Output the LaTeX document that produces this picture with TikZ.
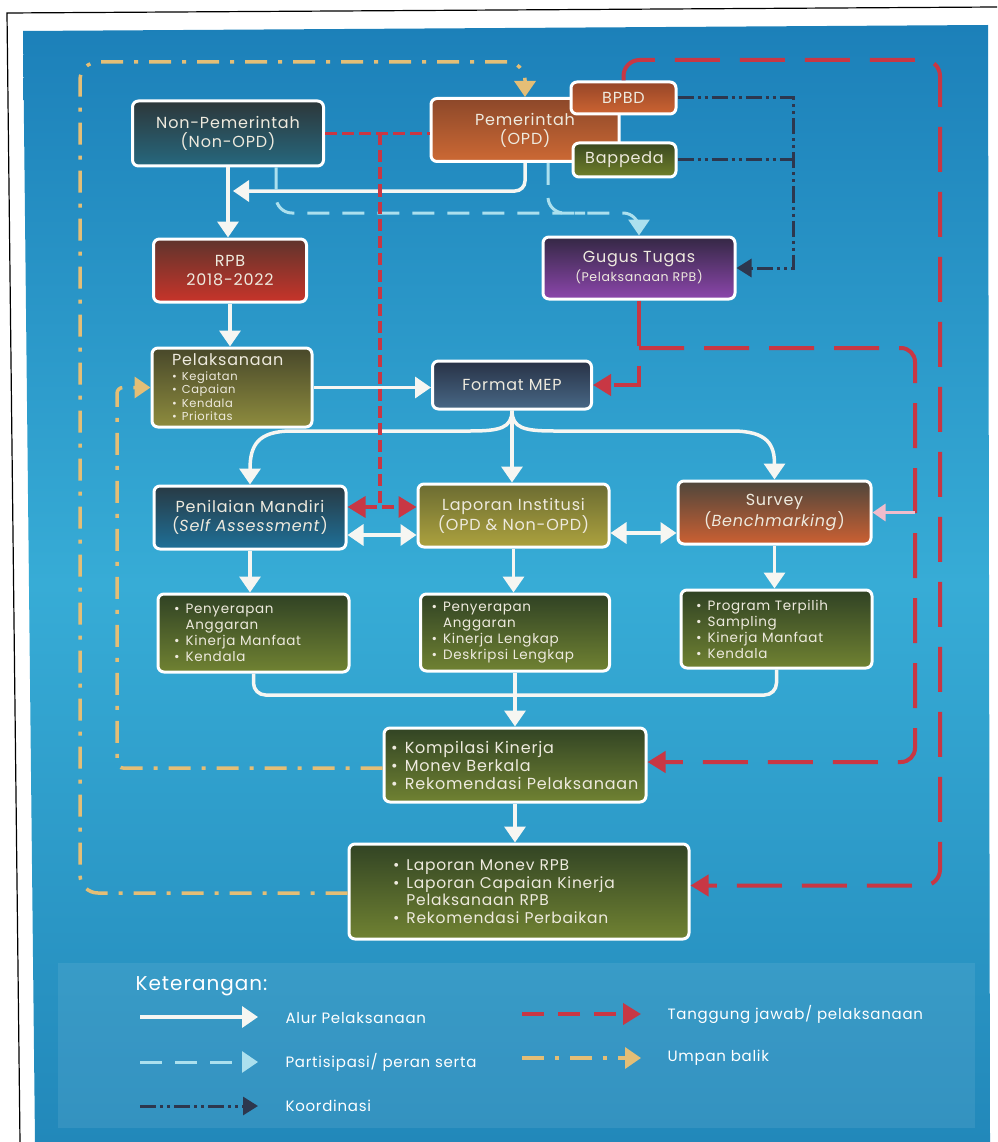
\documentclass[tikz,border=0pt]{standalone}
\usepackage{fontspec}
\newfontfamily\boxfont[LetterSpace=5]{Poppins}
\usetikzlibrary{arrows.meta}

\definecolor{bgtop}{RGB}{28,128,185}
\definecolor{bgmid}{RGB}{55,172,214}
\definecolor{bgbot}{RGB}{34,136,186}
\definecolor{flowwhite}{RGB}{246,246,242}
\definecolor{partblue}{RGB}{172,224,238}
\definecolor{respred}{RGB}{200,55,68}
\definecolor{feedtan}{RGB}{228,190,118}
\definecolor{coordgray}{RGB}{45,55,78}
\definecolor{pinkish}{RGB}{240,188,204}
\definecolor{boxtext}{RGB}{238,234,222}

\newcommand{\bul}{\textbullet\hspace{0.45em}}
\newcommand{\hang}{\hphantom{\textbullet}\hspace{0.45em}}

\tikzset{
  box/.style={draw=white, line width=3pt, rounded corners=6pt, text=boxtext,
    align=center, inner sep=0pt, font=\boxfont\fontsize{16}{19}\selectfont},
  listbox/.style={box, align=left, font=\boxfont\fontsize{13.5}{16}\selectfont},
  flow/.style={draw=flowwhite, line width=3.5pt, -{Triangle[width=21pt,length=16pt]}},
  twoway/.style={{Triangle[width=21pt,length=16pt]}-{Triangle[width=21pt,length=16pt]}},
  part/.style={draw=partblue, line width=3pt, dash pattern=on 22pt off 13pt,
    -{Triangle[width=21pt,length=16pt]}},
  resp/.style={draw=respred, line width=4pt, dash pattern=on 45pt off 20pt,
    -{Triangle[width=21pt,length=18pt]}},
  respthin/.style={draw=respred, line width=3.5pt, dash pattern=on 12pt off 5pt},
  coordn/.style={draw=coordgray, line width=3pt,
    dash pattern=on 16pt off 4pt on 3pt off 4pt on 3pt off 4pt,
    -{Triangle[width=18pt,length=15pt]}},
  feed/.style={draw=feedtan, line width=3.5pt, dash pattern=on 22pt off 11pt on 4pt off 11pt,
    -{Triangle[width=21pt,length=16pt]}},
  pinkarr/.style={draw=pinkish, line width=3pt, -{Triangle[width=17pt,length=13pt]}},
  legtext/.style={anchor=west, text=white, font=\boxfont\fontsize{15}{18}\selectfont}
}

\begin{document}
\begin{tikzpicture}[x=1pt,y=-1pt]
% page, scan frame and background
\useasboundingbox (0,0) rectangle (997,1142);
\fill[white] (0,0) rectangle (997,1142);
\draw[black, line width=1.2pt] (20,1142) -- (7,13) -- (997,7);
\shade[top color=bgtop, bottom color=bgbot, middle color=bgmid]
  (23,31) -- (988,25) -- (990,1142) -- (35,1142) -- cycle;
\fill[white, opacity=0.08] (58,963) rectangle (975,1128);

% boxes
\node[box, minimum width=191pt, minimum height=65pt,
  top color={rgb,255:red,45;green,55;blue,58}, bottom color={rgb,255:red,38;green,104;blue,126}]
  (nonpem) at (228,133.5) {Non-Pemerintah\\(Non-OPD)};
\node[box, minimum width=188pt, minimum height=63pt,
  top color={rgb,255:red,140;green,72;blue,42}, bottom color={rgb,255:red,205;green,105;blue,52}]
  (pem) at (525,130) {Pemerintah\\(OPD)};
\node[box, minimum width=105pt, minimum height=32pt,
  top color={rgb,255:red,150;green,70;blue,40}, bottom color={rgb,255:red,205;green,100;blue,50}]
  (bpbd) at (623.5,98) {BPBD};
\node[box, minimum width=103pt, minimum height=34pt,
  top color={rgb,255:red,58;green,72;blue,32}, bottom color={rgb,255:red,112;green,128;blue,42}]
  (bappeda) at (624.5,160) {Bappeda};
\node[box, minimum width=153pt, minimum height=63pt,
  top color={rgb,255:red,95;green,52;blue,44}, bottom color={rgb,255:red,200;green,52;blue,42}]
  (rpb) at (230,270.5) {RPB\\2018-2022};
\node[box, minimum width=192pt, minimum height=62pt,
  top color={rgb,255:red,52;green,40;blue,68}, bottom color={rgb,255:red,140;green,70;blue,172}]
  (gugus) at (639,268) {Gugus Tugas\\{\fontsize{12.5}{15}\selectfont(Pelaksanaan RPB)}};
\node[box, align=left, minimum height=79pt, inner xsep=20pt, text width=120pt,
  font=\boxfont\fontsize{11.5}{13.5}\selectfont,
  top color={rgb,255:red,72;green,72;blue,42}, bottom color={rgb,255:red,142;green,140;blue,62}]
  (pelak) at (232,387.5) {{\fontsize{16}{19}\selectfont Pelaksanaan}\\[1pt]
  \bul Kegiatan\\ \bul Capaian\\ \bul Kendala\\ \bul Prioritas};
\node[box, minimum width=159pt, minimum height=48pt,
  top color={rgb,255:red,40;green,50;blue,70}, bottom color={rgb,255:red,72;green,104;blue,134}]
  (fmt) at (512,385) {Format MEP};
\node[box, minimum width=192pt, minimum height=63pt,
  top color={rgb,255:red,40;green,58;blue,68}, bottom color={rgb,255:red,30;green,112;blue,152}]
  (penilaian) at (250,517.5) {Penilaian Mandiri\\(\textit{Self Assessment})};
\node[box, minimum width=191pt, minimum height=63pt,
  top color={rgb,255:red,108;green,108;blue,50}, bottom color={rgb,255:red,172;green,162;blue,62}]
  (lapinst) at (513.5,515.5) {Laporan Institusi\\(OPD \& Non-OPD)};
\node[box, minimum width=193pt, minimum height=63pt,
  top color={rgb,255:red,78;green,70;blue,60}, bottom color={rgb,255:red,204;green,96;blue,50}]
  (survey) at (774.5,512.5) {Survey\\(\textit{Benchmarking})};

% result boxes
\node[listbox, minimum height=78pt, inner xsep=16pt, text width=159pt,
  top color={rgb,255:red,48;green,66;blue,36}, bottom color={rgb,255:red,112;green,130;blue,50}]
  (boxa) at (253.5,633) {\bul Penyerapan\\ \hang Anggaran\\ \bul Kinerja Manfaat\\ \bul Kendala};
\node[listbox, minimum height=77pt, inner xsep=11pt, text width=167pt,
  top color={rgb,255:red,48;green,66;blue,36}, bottom color={rgb,255:red,112;green,130;blue,50}]
  (boxb) at (515,632.5) {\bul Penyerapan\\ \hang Anggaran\\ \bul Kinerja Lengkap\\ \bul Deskripsi Lengkap};
\node[listbox, minimum height=78pt, inner xsep=15pt, text width=161pt,
  top color={rgb,255:red,48;green,66;blue,36}, bottom color={rgb,255:red,112;green,130;blue,50}]
  (boxc) at (776.5,629) {\bul Program Terpilih\\ \bul Sampling\\ \bul Kinerja Manfaat\\ \bul Kendala};
\node[listbox, minimum height=74pt, inner xsep=7pt, text width=248pt,
  font=\boxfont\fontsize{16}{18}\selectfont,
  top color={rgb,255:red,50;green,68;blue,36}, bottom color={rgb,255:red,112;green,130;blue,50}]
  (komp) at (515,765) {\bul Kompilasi Kinerja\\ \bul Monev Berkala\\ \bul Rekomendasi Pelaksanaan};
\node[listbox, minimum height=95pt, inner xsep=44pt, text width=252pt,
  font=\boxfont\fontsize{15.5}{17.5}\selectfont,
  top color={rgb,255:red,50;green,68;blue,36}, bottom color={rgb,255:red,112;green,130;blue,50}]
  (monev) at (519,891.5) {\bul Laporan Monev RPB\\ \bul Laporan Capaian Kinerja\\ \hang Pelaksanaan RPB\\ \bul Rekomendasi Perbaikan};

% named points for connectors
\coordinate (mergept) at (233,191);
\coordinate (partrow) at (0,213);
\coordinate (rtop) at (380,133.5);
\coordinate (rbot) at (380,507);
\coordinate (rin) at (915,348);
\coordinate (rout) at (940,60);
\coordinate (coordx) at (793,97);
\coordinate (fbout) at (80,62);
\coordinate (fbin) at (117,0);
\coordinate (merge) at (515,695);
\coordinate (wrow) at (0,535);

% alur pelaksanaan
\draw[flow] (nonpem.south) -- (nonpem.south |- rpb.north);
\draw[flow, rounded corners=10pt] (pem.south) |- (mergept);
\draw[flow] (rpb.south) -- (rpb.south |- pelak.north);
\draw[flow] (pelak.east) -- (pelak.east -| fmt.west);
\draw[flow] (fmt.south) -- (fmt.south |- lapinst.north);
\draw[flow] (fmt.south) .. controls (512,428) and (500,431) .. (470,431) -- (292,431)
  .. controls (258,431) and (250,445) .. (penilaian.north);
\draw[flow] (fmt.south) .. controls (512,428) and (524,431) .. (554,431) -- (732,431)
  .. controls (768,431) and (774.5,445) .. (survey.north);
\draw[flow, twoway] (penilaian.east |- wrow) -- (lapinst.west |- wrow);
\draw[flow, twoway] ([yshift=2pt]lapinst.east |- wrow) -- ([yshift=2pt]survey.west |- wrow);
\draw[flow] (penilaian.south) -- (penilaian.south |- boxa.north);
\draw[flow] (lapinst.south) -- (lapinst.south |- boxb.north);
\draw[flow] (survey.south) -- (survey.south |- boxc.north);
\draw[flow, -, rounded corners=12pt] (boxa.south) |- (merge) -| (boxc.south);
\draw[flow] (boxb.south) -- (boxb.south |- komp.north);
\draw[flow] (komp.south) -- (komp.south |- monev.north);

% partisipasi
\draw[part, rounded corners=16pt] ([xshift=48pt]nonpem.south) |- (gugus.north |- partrow) -- (gugus.north);
\draw[part, -, rounded corners=16pt] ([xshift=23pt]pem.south) |- ([xshift=60pt]pem.south |- partrow);

% tanggung jawab
\draw[respthin] (nonpem.east) -- (nonpem.east -| pem.west);
\draw[respthin] (rtop) -- (rbot);
\draw[respthin, {Triangle[width=21pt,length=18pt]}-{Triangle[width=21pt,length=18pt]}]
  (penilaian.east |- rbot) -- (lapinst.west |- rbot);
\draw[resp] (gugus.south) |- (fmt.east);
\draw[resp, rounded corners=14pt] (gugus.south |- rin) -- (rin) |- ([yshift=3pt]komp.east);
\draw[resp, rounded corners=16pt] (bpbd.north) |- (rout) |- ([yshift=6pt]monev.east);
\draw[pinkarr] (rin |- survey.east) -- (survey.east);

% koordinasi
\draw[coordn] (bpbd.east) -| (coordx |- gugus.east) -- (gugus.east);
\draw[coordn, -] (bappeda.east) -- (bappeda.east -| coordx);

% umpan balik
\draw[feed, rounded corners=18pt] ([yshift=-1.5pt]monev.west) -| (fbout) -| (pem.north);
\draw[feed, rounded corners=6pt] ([yshift=-3pt]komp.west) -| (fbin |- pelak.west) -- (pelak.west);

% keterangan
\node[legtext, font=\boxfont\fontsize{20}{22}\selectfont] (lgtitle) at (132,986) {Keterangan:};
\draw[flow] (140,1017) -- (258,1017);
\node[legtext] (lgalur) at (282,1018) {Alur Pelaksanaan};
\draw[part] (140,1062) -- (258,1062);
\node[legtext] (lgpart) at (282,1062) {Partisipasi/ peran serta};
\draw[coordn] (140,1106) -- (258,1106);
\node[legtext] (lgkoord) at (282,1106) {Koordinasi};
\draw[resp, dash pattern=on 22pt off 14pt] (522,1014) -- (641,1014);
\node[legtext] (lgresp) at (664,1014) {Tanggung jawab/ pelaksanaan};
\draw[feed] (522,1058) -- (641,1058);
\node[legtext] (lgfeed) at (664,1058) {Umpan balik};
\end{tikzpicture}
\end{document}
